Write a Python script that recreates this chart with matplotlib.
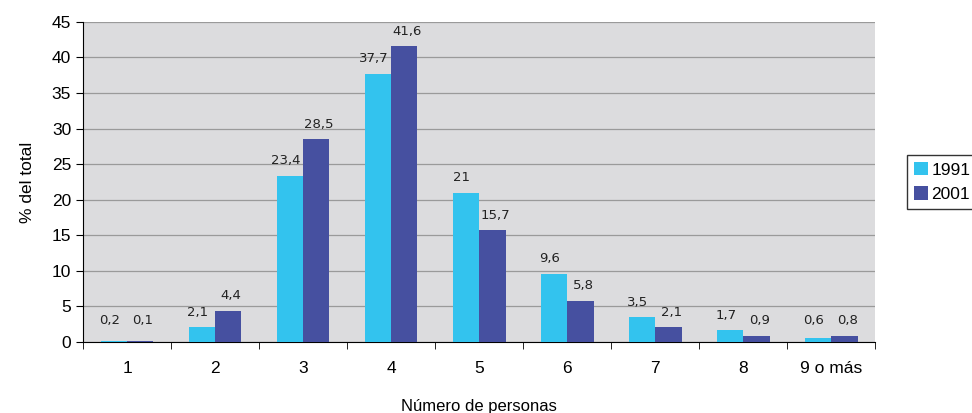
import matplotlib.pyplot as plt
import numpy as np

categorias = ['1', '2', '3', '4', '5', '6', '7', '8', '9 o más']
valores_1991 = [0.2, 2.1, 23.4, 37.7, 21, 9.6, 3.5, 1.7, 0.6]
valores_2001 = [0.1, 4.4, 28.5, 41.6, 15.7, 5.8, 2.1, 0.9, 0.8]
etiquetas_1991 = ['0,2', '2,1', '23,4', '37,7', '21', '9,6', '3,5', '1,7', '0,6']
etiquetas_2001 = ['0,1', '4,4', '28,5', '41,6', '15,7', '5,8', '2,1', '0,9', '0,8']

plt.rcParams['font.family'] = ['Liberation Sans', 'DejaVu Sans']

fig = plt.figure(figsize=(9.72, 4.13), dpi=100)
ax = fig.add_axes([0.0854, 0.172, 0.815, 0.775])
ax.set_facecolor('#DCDCDE')

x = np.arange(len(categorias))
ancho = 0.3
b1 = ax.bar(x - ancho / 2, valores_1991, ancho, color='#33C3EE', label='1991', zorder=3)
b2 = ax.bar(x + ancho / 2, valores_2001, ancho, color='#4650A0', label='2001', zorder=3)

for barras, etiquetas, dx in ((b1, etiquetas_1991, -3), (b2, etiquetas_2001, 2)):
    for b, t in zip(barras, etiquetas):
        h = max(b.get_height(), 1.0)
        ax.annotate(t, (b.get_x() + b.get_width() / 2, h), xytext=(dx, 6),
                    textcoords='offset points', ha='center', va='bottom',
                    fontsize=9.5, family='DejaVu Sans', color='#222222')

ax.set_xlim(-0.5, len(categorias) - 0.5)
ax.set_ylim(0, 45)
ax.set_yticks(range(0, 46, 5))
ax.set_xticks(x)
ax.set_xticklabels(categorias, fontsize=12.5)
ax.set_xticks(np.arange(-0.5, len(categorias), 1), minor=True)
ax.tick_params(axis='x', which='major', length=0, pad=14)
ax.tick_params(axis='x', which='minor', length=5, direction='out')
ax.tick_params(axis='y', labelsize=12.5, length=5, direction='out')
ax.grid(axis='y', color='#9A9A9A', linewidth=0.9, zorder=0)
for s in ('top', 'right'):
    ax.spines[s].set_visible(False)

ax.set_xlabel('Número de personas', fontsize=12, labelpad=16)
ax.set_ylabel('% del total', fontsize=12.5, labelpad=12)

leg = ax.legend(loc='center left', bbox_to_anchor=(1.04, 0.5), fontsize=12.5,
                frameon=True, fancybox=False, edgecolor='black',
                handlelength=0.8, handleheight=0.8, handletextpad=0.2,
                borderpad=0.4, labelspacing=0.5, borderaxespad=0)
leg.get_frame().set_linewidth(1.0)

fig.savefig('out.png', dpi=100)
